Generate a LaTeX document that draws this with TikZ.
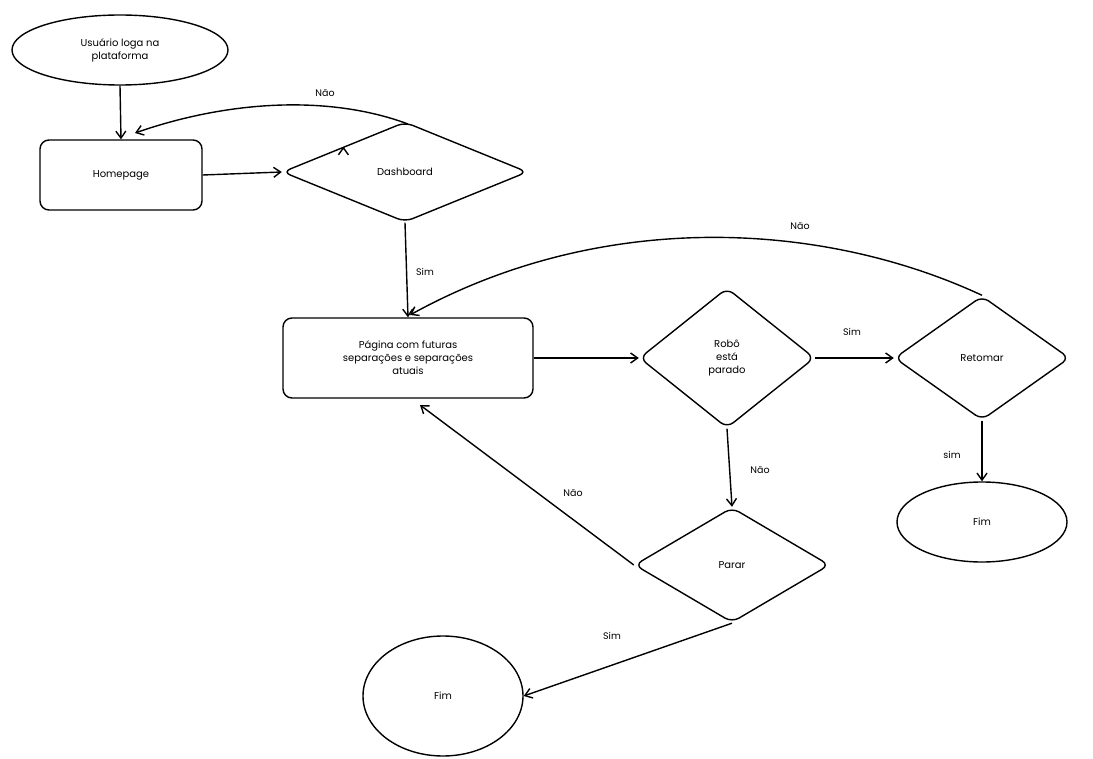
\documentclass[tikz,border=0pt]{standalone}
\usepackage{fontspec}
\setmainfont{Poppins}
\usetikzlibrary{shapes.geometric,arrows.meta}
\begin{document}
\begin{tikzpicture}[x=1pt,y=-1pt,line width=1.4pt,
  every node/.style={font=\fontsize{10}{13}\selectfont},
  ell/.style={draw,ellipse,inner sep=0},
  box/.style={draw,rounded corners=9pt,align=center,inner sep=0},
  dia/.style={draw,diamond,rounded corners=8pt,align=center,inner sep=0},
  arr/.style={-{Straight Barb[length=7pt,width=10pt]}},
  lbl/.style={font=\fontsize{9.5}{12}\selectfont}]
\useasboundingbox (0,0) rectangle (1093,759);
\node[ell,minimum width=216,minimum height=70,align=center] (start) at (120,50) {Usuário loga na\\plataforma};
\node[box,minimum width=162,minimum height=70] (home) at (121,175) {Homepage};
\node[dia,minimum width=245,minimum height=100] (dash) at (405,172) {Dashboard};
\node[box,minimum width=250,minimum height=80] (pag) at (408,358) {Página com futuras\\separações e separações\\atuais};
\node[dia,minimum width=175,minimum height=140] (robo) at (727,358) {Robô\\está\\parado};
\node[dia,minimum width=175,minimum height=124] (ret) at (982,358) {Retomar};
\node[ell,minimum width=170,minimum height=80] (fim1) at (982,522) {Fim};
\node[dia,minimum width=195,minimum height=115] (parar) at (732,565) {Parar};
\node[ell,minimum width=160,minimum height=120] (fim2) at (443,696) {Fim};

\draw[arr] (start.south) -- (home.north);
\draw[arr] (home.east) -- (dash.west);
\draw[arr] (dash.north west) ++(0,0) coordinate (d1);
\draw[arr] (408,124) .. controls (330,95) and (230,100) .. (135,133);
\node[lbl] (n1) at (325,93) {Não};
\draw[arr] (dash.south) -- (pag.north);
\node[lbl] (s1) at (425,272) {Sim};
\draw[arr] (pag.east) -- (robo.west);
\draw[arr] (robo.east) -- (ret.west);
\node[lbl] (s2) at (852,332) {Sim};
\draw[arr] (ret.north) .. controls (820,220) and (600,210) .. (410,315);
\node[lbl] (n2) at (800,226) {Não};
\draw[arr] (ret.south) -- (fim1.north);
\node[lbl] (s3) at (952,455) {sim};
\draw[arr] (robo.south) -- (parar.north);
\node[lbl] (n3) at (760,470) {Não};
\draw[arr] (parar.west) -- (420,405);
\node[lbl] (n4) at (573,493) {Não};
\draw[arr] (parar.south) -- (fim2.east);
\node[lbl] (s4) at (612,636) {Sim};
\end{tikzpicture}
\end{document}
